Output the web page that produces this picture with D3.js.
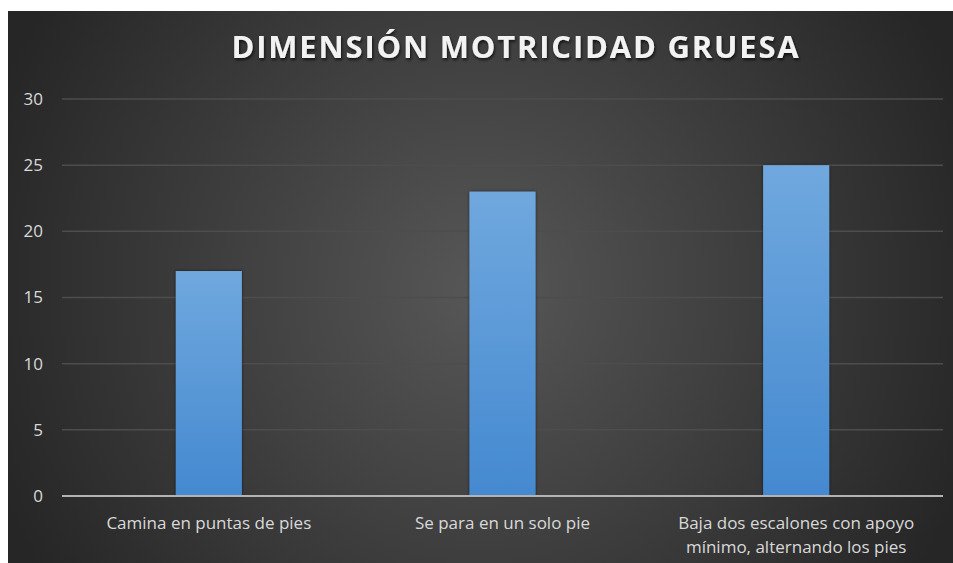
<!DOCTYPE html>
<html><head><meta charset="utf-8">
<script src="https://cdn.jsdelivr.net/npm/d3@7"></script>
<style>html,body{margin:0;padding:0;background:#fff;}svg{display:block;}</style>
</head><body>
<script>
const categories = [["Camina en puntas de pies"], ["Se para en un solo pie"], ["Baja dos escalones con apoyo", "mínimo, alternando los pies"]];
const values = [17, 23, 25];
const yTicks = [0, 5, 10, 15, 20, 25, 30];
const title = "DIMENSIÓN MOTRICIDAD GRUESA";

const W = 953, H = 563;
const svg = d3.select("body").append("svg").attr("width", W).attr("height", H);
const defs = svg.append("defs");
const rg = defs.append("radialGradient").attr("id", "bg").attr("gradientUnits", "userSpaceOnUse")
  .attr("cx", 480).attr("cy", 290).attr("r", 520);
rg.append("stop").attr("offset", "0%").attr("stop-color", "#575757");
rg.append("stop").attr("offset", "100%").attr("stop-color", "#262626");
const bg = defs.append("linearGradient").attr("id", "bar").attr("x1", 0).attr("y1", 0).attr("x2", 0).attr("y2", 1);
bg.append("stop").attr("offset", "0%").attr("stop-color", "#70a8de");
bg.append("stop").attr("offset", "100%").attr("stop-color", "#4489d0");
const sh = defs.append("filter").attr("id", "ts").attr("x", "-10%").attr("y", "-30%").attr("width", "120%").attr("height", "160%");
sh.append("feDropShadow").attr("dx", 1).attr("dy", 2).attr("stdDeviation", 1.5).attr("flood-color", "#000").attr("flood-opacity", 0.7);
const bs = defs.append("filter").attr("id", "bs").attr("x", "-20%").attr("y", "-5%").attr("width", "140%").attr("height", "110%");
bs.append("feDropShadow").attr("dx", 0).attr("dy", 0).attr("stdDeviation", 1.5).attr("flood-color", "#000").attr("flood-opacity", 0.6);

svg.append("rect").attr("x", 8).attr("y", 11).attr("width", W - 8).attr("height", H - 11).attr("fill", "url(#bg)");

const x = d3.scaleBand().domain(d3.range(categories.length)).range([62, 943]).paddingInner(0.775).paddingOuter(0.3875);
const y = d3.scaleLinear().domain([0, 30]).range([496, 99]);

const grid = svg.append("g");
grid.selectAll("line").data(yTicks.filter(d => d > 0)).enter().append("line")
  .attr("x1", 62).attr("x2", 943).attr("y1", d => y(d)).attr("y2", d => y(d))
  .attr("stroke", "#4d4d4d").attr("stroke-width", 1.5);

const yAxis = d3.axisLeft(y).tickValues(yTicks).tickSize(0).tickPadding(0);
const ya = svg.append("g").attr("transform", "translate(43,0)").call(yAxis);
ya.select(".domain").remove();
ya.selectAll("text").attr("fill", "#d9d9d9").attr("font-family", "'Open Sans', sans-serif").attr("font-size", 17);

svg.append("g").selectAll("rect").data(values).enter().append("rect")
  .attr("x", (d, i) => x(i)).attr("width", x.bandwidth())
  .attr("y", d => y(d)).attr("height", d => y(0) - y(d))
  .attr("fill", "url(#bar)").attr("filter", "url(#bs)");

svg.append("line").attr("x1", 62).attr("x2", 943).attr("y1", y(0)).attr("y2", y(0))
  .attr("stroke", "#b3b3b3").attr("stroke-width", 2);

const cl = svg.append("g");
categories.forEach((lines, i) => {
  const t = cl.append("text").attr("x", x(i) + x.bandwidth() / 2).attr("y", 529)
    .attr("text-anchor", "middle").attr("fill", "#d9d9d9")
    .attr("font-family", "'Open Sans', sans-serif").attr("font-size", 17);
  lines.forEach((l, j) => t.append("tspan").attr("x", x(i) + x.bandwidth() / 2).attr("dy", j === 0 ? 0 : 24).text(l));
});

svg.append("text").attr("x", 516).attr("y", 58).attr("text-anchor", "middle")
  .attr("fill", "#f2f2f2").attr("font-family", "'Open Sans', sans-serif").attr("font-weight", "bold")
  .attr("font-size", 31).attr("letter-spacing", 1.8).attr("filter", "url(#ts)").text(title);
</script>
</body></html>
